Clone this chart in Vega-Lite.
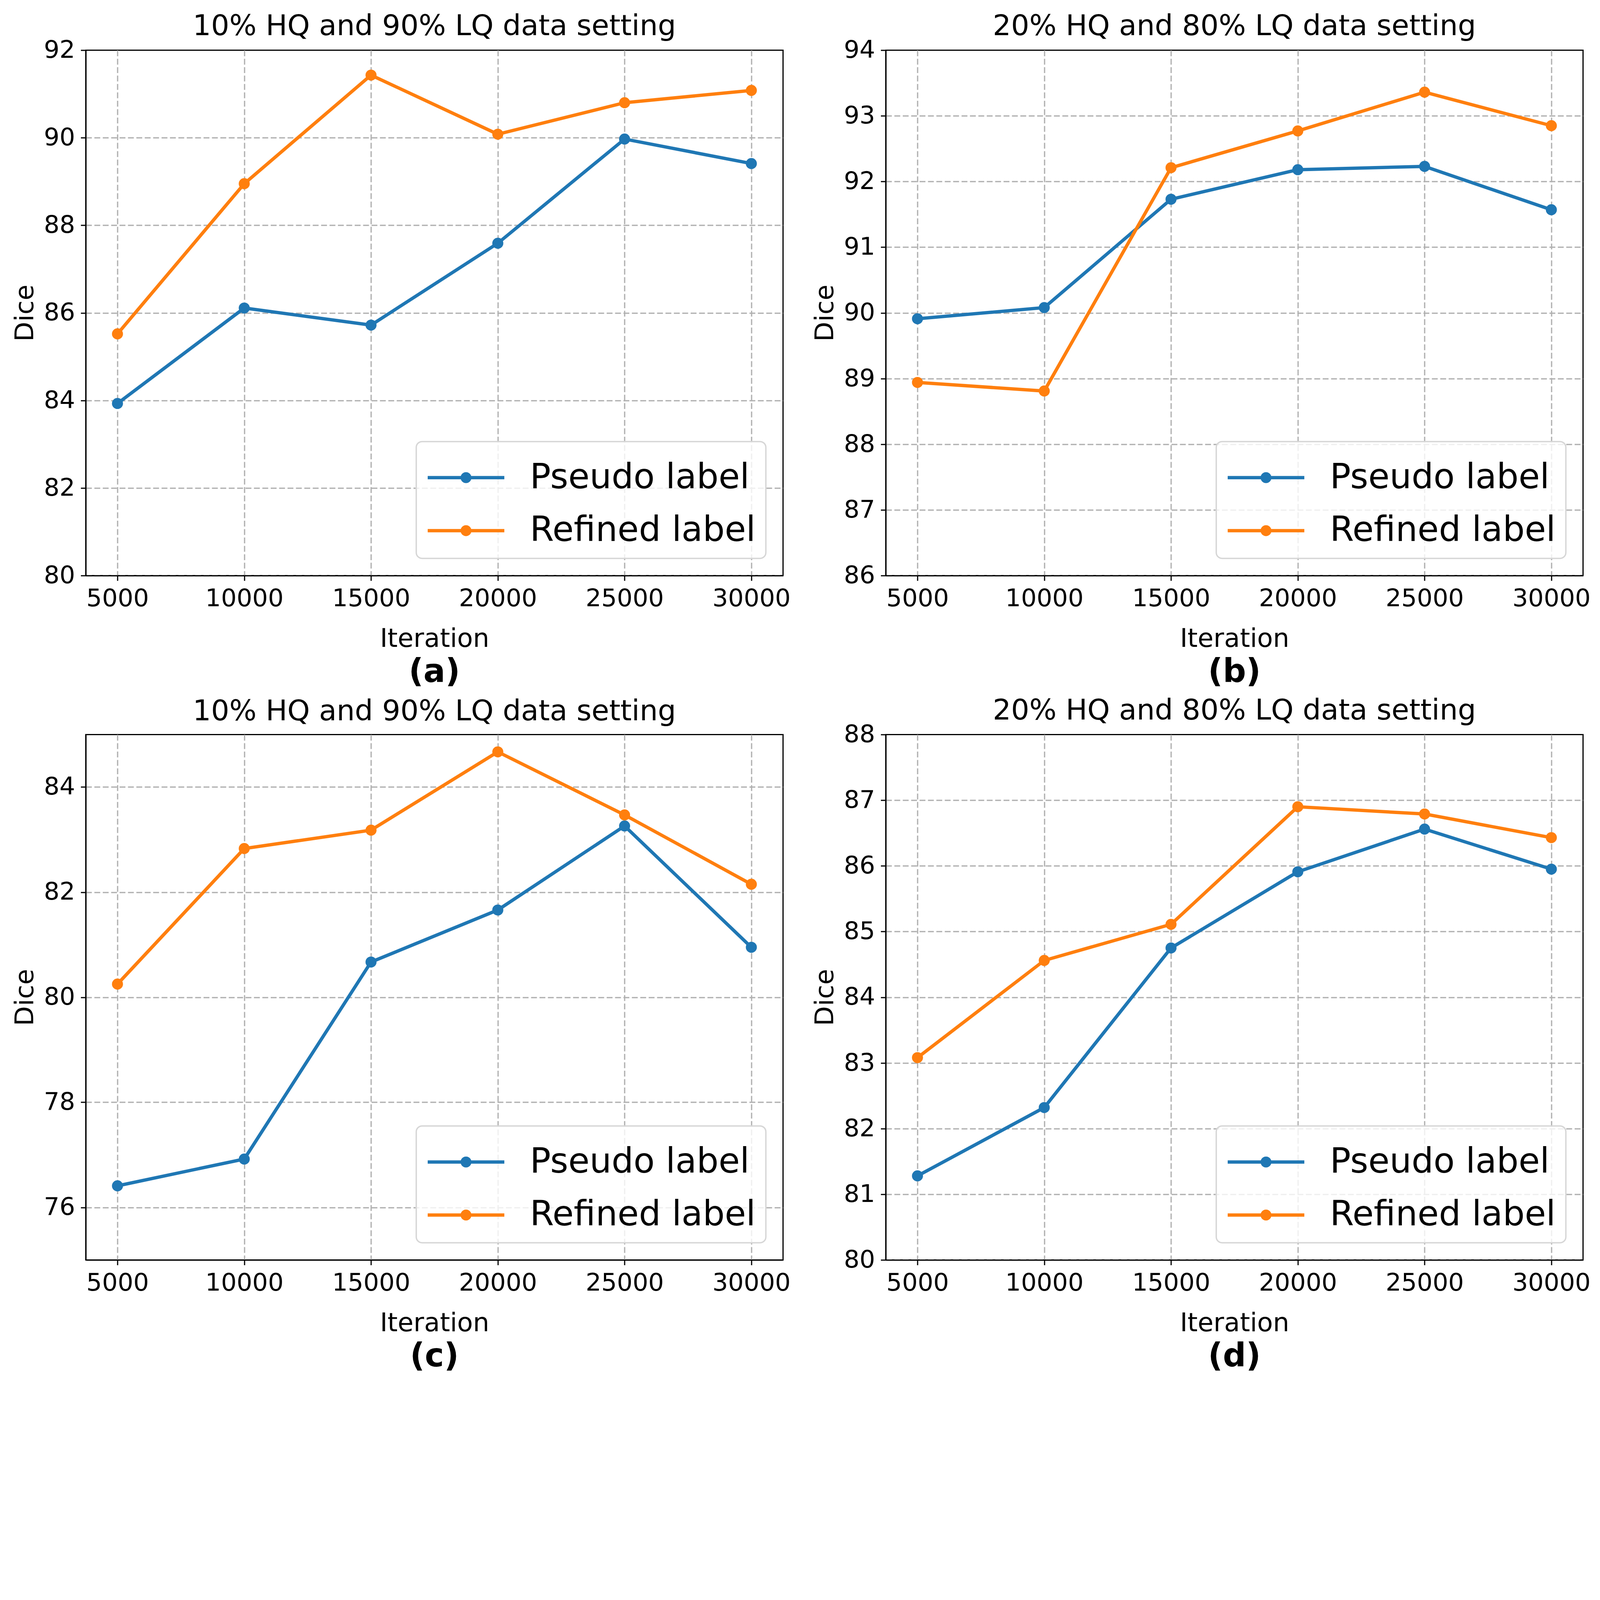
{
  "$schema": "https://vega.github.io/schema/vega-lite/v6.json",
  "background": "white",
  "padding": {"left": 29.6, "top": 28.4, "right": 10, "bottom": 5},
  "datasets": {
    "a": [
      {"Iteration": 5000, "Dice": 83.93, "Label": "Pseudo label"},
      {"Iteration": 10000, "Dice": 86.11, "Label": "Pseudo label"},
      {"Iteration": 15000, "Dice": 85.72, "Label": "Pseudo label"},
      {"Iteration": 20000, "Dice": 87.59, "Label": "Pseudo label"},
      {"Iteration": 25000, "Dice": 89.97, "Label": "Pseudo label"},
      {"Iteration": 30000, "Dice": 89.41, "Label": "Pseudo label"},
      {"Iteration": 5000, "Dice": 85.52, "Label": "Refined label"},
      {"Iteration": 10000, "Dice": 88.95, "Label": "Refined label"},
      {"Iteration": 15000, "Dice": 91.43, "Label": "Refined label"},
      {"Iteration": 20000, "Dice": 90.08, "Label": "Refined label"},
      {"Iteration": 25000, "Dice": 90.80, "Label": "Refined label"},
      {"Iteration": 30000, "Dice": 91.08, "Label": "Refined label"}
    ],
    "b": [
      {"Iteration": 5000, "Dice": 89.91, "Label": "Pseudo label"},
      {"Iteration": 10000, "Dice": 90.08, "Label": "Pseudo label"},
      {"Iteration": 15000, "Dice": 91.73, "Label": "Pseudo label"},
      {"Iteration": 20000, "Dice": 92.18, "Label": "Pseudo label"},
      {"Iteration": 25000, "Dice": 92.23, "Label": "Pseudo label"},
      {"Iteration": 30000, "Dice": 91.57, "Label": "Pseudo label"},
      {"Iteration": 5000, "Dice": 88.94, "Label": "Refined label"},
      {"Iteration": 10000, "Dice": 88.81, "Label": "Refined label"},
      {"Iteration": 15000, "Dice": 92.21, "Label": "Refined label"},
      {"Iteration": 20000, "Dice": 92.77, "Label": "Refined label"},
      {"Iteration": 25000, "Dice": 93.36, "Label": "Refined label"},
      {"Iteration": 30000, "Dice": 92.85, "Label": "Refined label"}
    ],
    "c": [
      {"Iteration": 5000, "Dice": 76.41, "Label": "Pseudo label"},
      {"Iteration": 10000, "Dice": 76.92, "Label": "Pseudo label"},
      {"Iteration": 15000, "Dice": 80.67, "Label": "Pseudo label"},
      {"Iteration": 20000, "Dice": 81.66, "Label": "Pseudo label"},
      {"Iteration": 25000, "Dice": 83.26, "Label": "Pseudo label"},
      {"Iteration": 30000, "Dice": 80.95, "Label": "Pseudo label"},
      {"Iteration": 5000, "Dice": 80.25, "Label": "Refined label"},
      {"Iteration": 10000, "Dice": 82.83, "Label": "Refined label"},
      {"Iteration": 15000, "Dice": 83.18, "Label": "Refined label"},
      {"Iteration": 20000, "Dice": 84.67, "Label": "Refined label"},
      {"Iteration": 25000, "Dice": 83.47, "Label": "Refined label"},
      {"Iteration": 30000, "Dice": 82.15, "Label": "Refined label"}
    ],
    "d": [
      {"Iteration": 5000, "Dice": 81.28, "Label": "Pseudo label"},
      {"Iteration": 10000, "Dice": 82.32, "Label": "Pseudo label"},
      {"Iteration": 15000, "Dice": 84.75, "Label": "Pseudo label"},
      {"Iteration": 20000, "Dice": 85.91, "Label": "Pseudo label"},
      {"Iteration": 25000, "Dice": 86.56, "Label": "Pseudo label"},
      {"Iteration": 30000, "Dice": 85.95, "Label": "Pseudo label"},
      {"Iteration": 5000, "Dice": 83.08, "Label": "Refined label"},
      {"Iteration": 10000, "Dice": 84.56, "Label": "Refined label"},
      {"Iteration": 15000, "Dice": 85.11, "Label": "Refined label"},
      {"Iteration": 20000, "Dice": 86.90, "Label": "Refined label"},
      {"Iteration": 25000, "Dice": 86.79, "Label": "Refined label"},
      {"Iteration": 30000, "Dice": 86.43, "Label": "Refined label"}
    ]
  },
  "vconcat": [
    {
      "hconcat": [
        {
          "title": {"text": "(a)", "orient": "bottom", "fontSize": 83, "fontWeight": "bold", "offset": 76, "baseline": "alphabetic", "dx": 892.5},
          "vconcat": [
            {
              "width": 1785, "height": 1345,
              "data": {"name": "a"},
              "title": {"text": "10% HQ and 90% LQ data setting"},
              "encoding": {
                "x": {"field": "Iteration", "type": "quantitative", "scale": {"domain": [3750, 31250], "nice": false, "zero": false}, "axis": {"values": [5000, 10000, 15000, 20000, 25000, 30000], "format": "d", "title": "Iteration"}},
                "y": {"field": "Dice", "type": "quantitative", "scale": {"domain": [80, 92], "nice": false, "zero": false}, "axis": {"values": [80, 82, 84, 86, 88, 90, 92], "format": "d", "title": "Dice", "gridColor": {"condition": {"test": "datum.value >= 92", "value": "transparent"}, "value": "#b0b0b0"}}},
                "color": {"field": "Label", "type": "nominal", "scale": {"domain": ["Pseudo label", "Refined label"], "range": ["#1f77b4", "#ff7f0e"]}, "legend": {"title": null, "orient": "bottom-right"}}
              },
              "layer": [
                {"mark": {"type": "point", "filled": true, "size": 800, "opacity": 1}},
                {"mark": {"type": "line", "strokeWidth": 8.5}}
              ]
            }
          ],
          "resolve": {"scale": {"color": "independent"}, "legend": {"color": "independent"}}
        },
        {
          "title": {"text": "(b)", "orient": "bottom", "fontSize": 83, "fontWeight": "bold", "offset": 76, "baseline": "alphabetic", "dx": 892.5},
          "vconcat": [
            {
              "width": 1785, "height": 1345,
              "data": {"name": "b"},
              "title": {"text": "20% HQ and 80% LQ data setting"},
              "encoding": {
                "x": {"field": "Iteration", "type": "quantitative", "scale": {"domain": [3750, 31250], "nice": false, "zero": false}, "axis": {"values": [5000, 10000, 15000, 20000, 25000, 30000], "format": "d", "title": "Iteration"}},
                "y": {"field": "Dice", "type": "quantitative", "scale": {"domain": [86, 94], "nice": false, "zero": false}, "axis": {"values": [86, 87, 88, 89, 90, 91, 92, 93, 94], "format": "d", "title": "Dice", "gridColor": {"condition": {"test": "datum.value >= 94", "value": "transparent"}, "value": "#b0b0b0"}}},
                "color": {"field": "Label", "type": "nominal", "scale": {"domain": ["Pseudo label", "Refined label"], "range": ["#1f77b4", "#ff7f0e"]}, "legend": {"title": null, "orient": "bottom-right"}}
              },
              "layer": [
                {"mark": {"type": "point", "filled": true, "size": 800, "opacity": 1}},
                {"mark": {"type": "line", "strokeWidth": 8.5}}
              ]
            }
          ],
          "resolve": {"scale": {"color": "independent"}, "legend": {"color": "independent"}}
        }
      ],
      "spacing": 52,
      "resolve": {"scale": {"color": "independent"}, "legend": {"color": "independent"}}
    },
    {
      "hconcat": [
        {
          "title": {"text": "(c)", "orient": "bottom", "fontSize": 83, "fontWeight": "bold", "offset": 76, "baseline": "alphabetic", "dx": 892.5},
          "vconcat": [
            {
              "width": 1785, "height": 1345,
              "data": {"name": "c"},
              "title": {"text": "10% HQ and 90% LQ data setting", "offset": 21.3},
              "encoding": {
                "x": {"field": "Iteration", "type": "quantitative", "scale": {"domain": [3750, 31250], "nice": false, "zero": false}, "axis": {"values": [5000, 10000, 15000, 20000, 25000, 30000], "format": "d", "title": "Iteration"}},
                "y": {"field": "Dice", "type": "quantitative", "scale": {"domain": [75, 85], "nice": false, "zero": false}, "axis": {"values": [76, 78, 80, 82, 84], "format": "d", "title": "Dice"}},
                "color": {"field": "Label", "type": "nominal", "scale": {"domain": ["Pseudo label", "Refined label"], "range": ["#1f77b4", "#ff7f0e"]}, "legend": {"title": null, "orient": "bottom-right"}}
              },
              "layer": [
                {"mark": {"type": "point", "filled": true, "size": 800, "opacity": 1}},
                {"mark": {"type": "line", "strokeWidth": 8.5}}
              ]
            }
          ],
          "resolve": {"scale": {"color": "independent"}, "legend": {"color": "independent"}}
        },
        {
          "title": {"text": "(d)", "orient": "bottom", "fontSize": 83, "fontWeight": "bold", "offset": 76, "baseline": "alphabetic", "dx": 892.5},
          "vconcat": [
            {
              "width": 1785, "height": 1345,
              "data": {"name": "d"},
              "title": {"text": "20% HQ and 80% LQ data setting"},
              "encoding": {
                "x": {"field": "Iteration", "type": "quantitative", "scale": {"domain": [3750, 31250], "nice": false, "zero": false}, "axis": {"values": [5000, 10000, 15000, 20000, 25000, 30000], "format": "d", "title": "Iteration"}},
                "y": {"field": "Dice", "type": "quantitative", "scale": {"domain": [80, 88], "nice": false, "zero": false}, "axis": {"values": [80, 81, 82, 83, 84, 85, 86, 87, 88], "format": "d", "title": "Dice", "gridColor": {"condition": {"test": "datum.value >= 88", "value": "transparent"}, "value": "#b0b0b0"}}},
                "color": {"field": "Label", "type": "nominal", "scale": {"domain": ["Pseudo label", "Refined label"], "range": ["#1f77b4", "#ff7f0e"]}, "legend": {"title": null, "orient": "bottom-right"}}
              },
              "layer": [
                {"mark": {"type": "point", "filled": true, "size": 800, "opacity": 1}},
                {"mark": {"type": "line", "strokeWidth": 8.5}}
              ]
            }
          ],
          "resolve": {"scale": {"color": "independent"}, "legend": {"color": "independent"}}
        }
      ],
      "spacing": 52,
      "resolve": {"scale": {"color": "independent"}, "legend": {"color": "independent"}}
    }
  ],
  "spacing": 17,
  "resolve": {"scale": {"color": "independent"}, "legend": {"color": "independent"}},
  "config": {
    "font": "DejaVu Sans",
    "view": {"stroke": "black", "strokeWidth": 3},
    "title": {"fontSize": 73.5, "fontWeight": "normal", "font": "DejaVu Sans", "color": "black", "offset": -7.7, "baseline": "alphabetic", "frame": "group", "anchor": "middle"},
    "axis": {
      "domainColor": "black", "domainWidth": 3,
      "tickColor": "black", "tickWidth": 3, "tickSize": 13,
      "labelFontSize": 63, "labelColor": "black", "labelPadding": 14.8, "labelFont": "DejaVu Sans", "labelLimit": 2000,
      "titleFontSize": 66, "titleFontWeight": "normal", "titleColor": "black", "titleFont": "DejaVu Sans", "titleLimit": 3000,
      "gridColor": "#b0b0b0", "gridWidth": 3.2, "gridDash": [15, 6.5]
    },
    "axisX": {"titlePadding": 39.6, "labelFlush": false},
    "axisY": {"titlePadding": 13},
    "legend": {
      "orient": "bottom-right", "offset": 44.4,
      "labelFontSize": 88.7, "labelFont": "DejaVu Sans", "labelColor": "black", "labelLimit": 3000,
      "symbolType": "M-1.474,-0.064L1.474,-0.064L1.474,0.064L-1.474,0.064Z M0.21,0 A0.21,0.21 0 1,1 -0.21,0 A0.21,0.21 0 1,1 0.21,0 Z",
      "symbolSize": 17716, "symbolStrokeWidth": 0, "symbolOffset": 35, "labelOffset": 96.6,
      "padding": 25.4, "rowPadding": 23.7,
      "strokeColor": "#d6d6d6", "strokeWidth": 3.5, "fillColor": "rgba(255,255,255,0.8)", "cornerRadius": 15
    }
  }
}
